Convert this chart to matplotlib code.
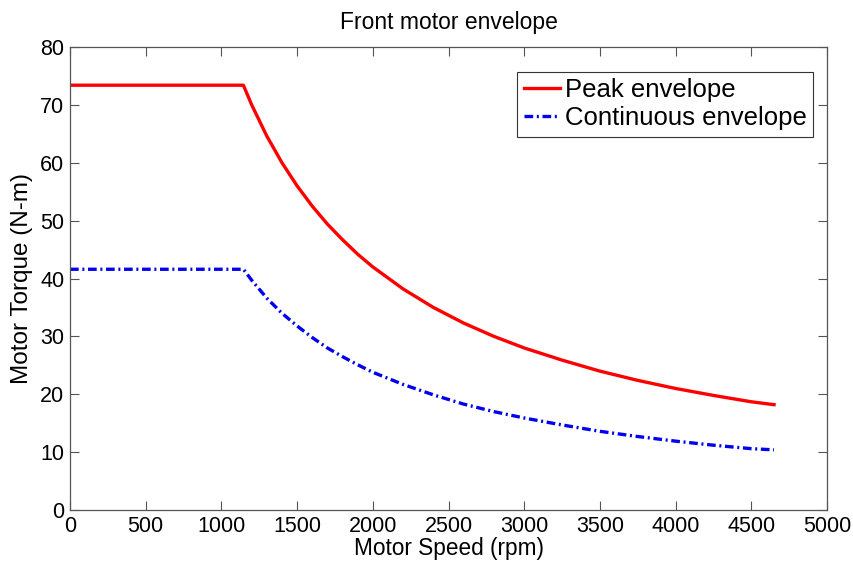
import matplotlib
matplotlib.use("Agg")
import matplotlib.pyplot as plt

# speed (rpm) and torque (N-m)
speed = [0, 1145, 1200, 1300, 1400, 1500, 1600, 1700, 1800, 1900, 2000,
         2200, 2400, 2600, 2800, 3000, 3250, 3500, 3750, 4000, 4250, 4500, 4650]
peak_torque = [73.4, 73.4, 70.0, 64.6, 60.0, 56.0, 52.5, 49.4, 46.7, 44.2, 42.0,
               38.2, 35.0, 32.3, 30.0, 28.0, 25.9, 24.0, 22.4, 21.0, 19.8, 18.7, 18.2]
cont_torque = [41.6, 41.6, 39.7, 36.6, 34.0, 31.8, 29.8, 28.0, 26.5, 25.1, 23.8,
               21.7, 19.9, 18.3, 17.0, 15.9, 14.7, 13.6, 12.7, 11.9, 11.2, 10.6, 10.4]

xticks = [0, 500, 1000, 1500, 2000, 2500, 3000, 3500, 4000, 4500, 5000]
yticks = [0, 10, 20, 30, 40, 50, 60, 70, 80]

plt.rcParams['font.family'] = ['Liberation Sans', 'DejaVu Sans']

fig = plt.figure(figsize=(8.54, 5.65), dpi=100)
ax = fig.add_axes([0.082, 0.0973, 0.8864, 0.8195])

ax.plot(speed, peak_torque, color='#ff0000', lw=2.4, label='Peak envelope')
ax.plot(speed, cont_torque, color='#0000ee', lw=2.4, dashes=(2.6, 1.1, 0.6, 1.1),
        label='Continuous envelope')

ax.set_xlim(0, 5000)
ax.set_ylim(0, 80)
ax.set_xticks(xticks)
ax.set_yticks(yticks)
ax.tick_params(direction='in', top=True, right=True, length=6.5, width=0.8,
               color='#555555', labelsize=15.5, pad=4)
for s in ax.spines.values():
    s.set_color('#555555')
    s.set_linewidth(0.9)

ax.set_xlabel('Motor Speed (rpm)', fontsize=16.3, labelpad=0)
ax.set_ylabel('Motor Torque (N-m)', fontsize=17.5, labelpad=5)
ax.set_title('Front motor envelope', fontsize=16.5, pad=13)

leg = ax.legend(loc='upper right', fontsize=18.5, handlelength=1.4, handletextpad=0.2,
                borderpad=0.25, labelspacing=0.15, fancybox=False, framealpha=1,
                borderaxespad=0.0, bbox_to_anchor=(0.9815, 0.946))
leg.get_frame().set_edgecolor('#333333')
leg.get_frame().set_linewidth(0.8)

fig.savefig('out.png', dpi=100)
